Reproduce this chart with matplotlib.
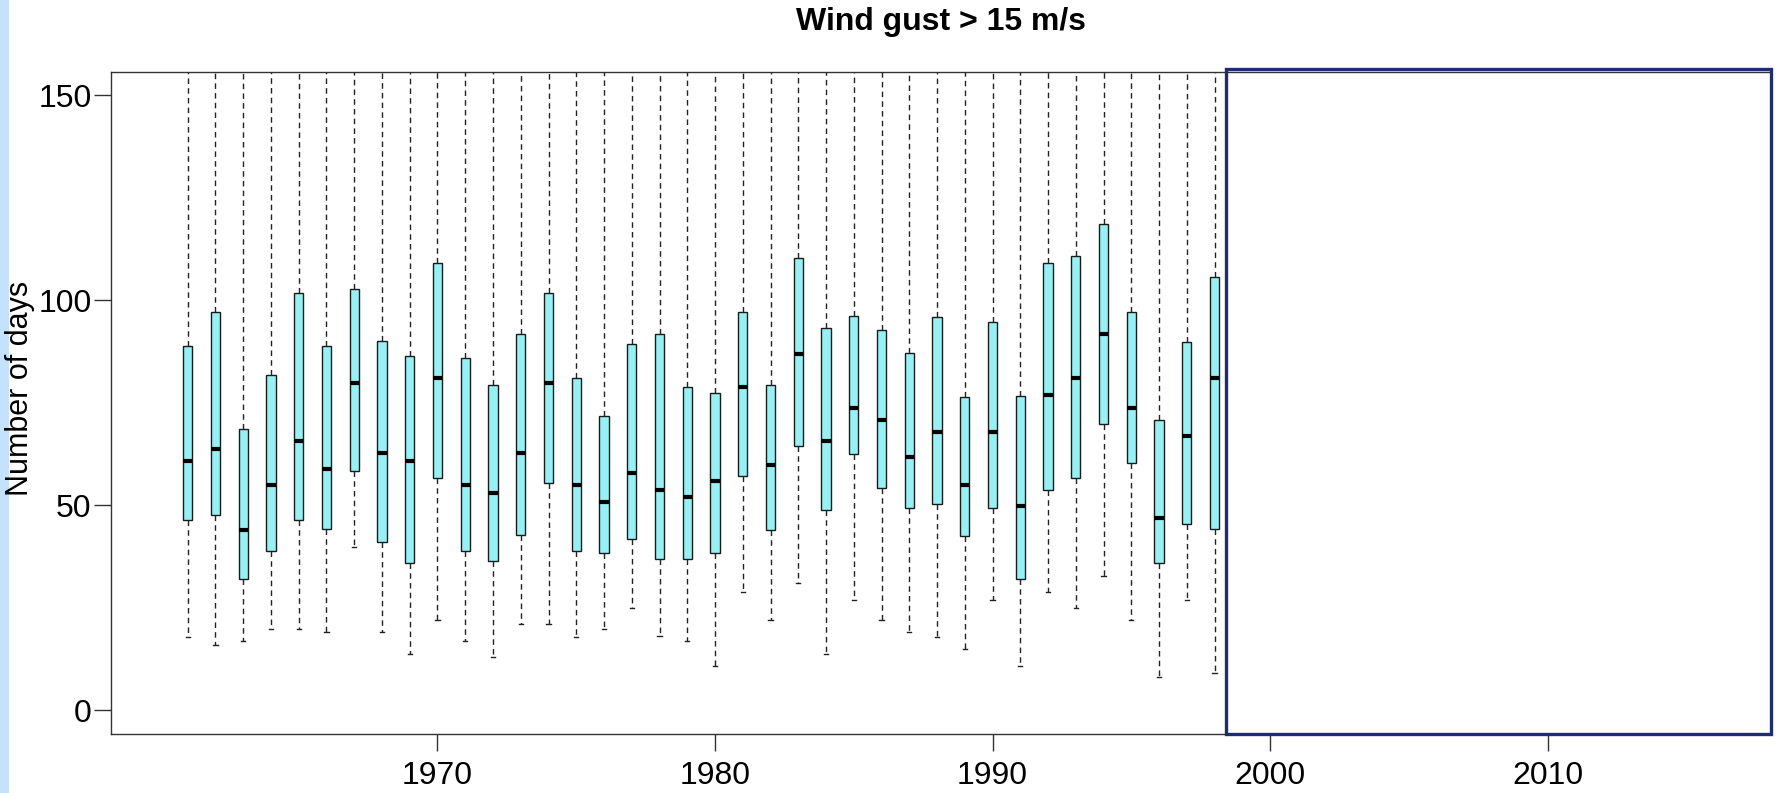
import numpy as np
import matplotlib.pyplot as plt
from matplotlib.patches import Rectangle

# Years shown as boxes
years = list(range(1961, 1999))

# Box statistics (number of days)
q1 = [46.3, 47.7, 31.9, 38.8, 46.3, 44.2, 58.4, 40.9, 35.8, 56.7,
      38.8, 36.3, 42.8, 55.4, 38.8, 38.2, 41.8, 36.9, 36.9, 38.2,
      57.2, 43.9, 64.3, 48.9, 62.4, 54.2, 49.3, 50.2, 42.4, 49.3,
      31.9, 53.7, 56.7, 69.8, 60.2, 35.8, 45.3, 44.2]
med = [60.8, 63.8, 43.9, 54.9, 65.7, 58.9, 79.8, 62.8, 60.8, 80.9,
       55.0, 52.9, 62.8, 79.8, 55.0, 50.8, 57.9, 53.7, 51.9, 55.9,
       78.7, 59.7, 86.8, 65.7, 73.8, 70.8, 61.8, 67.8, 54.8, 67.8,
       49.9, 76.8, 80.9, 91.8, 73.8, 46.9, 66.8, 80.9]
q3 = [88.8, 97.1, 68.5, 81.7, 101.8, 88.8, 102.6, 90.1, 86.3, 109.1,
      85.8, 79.3, 91.8, 101.8, 80.9, 71.7, 89.3, 91.8, 78.7, 77.4,
      97.1, 79.3, 110.2, 93.1, 96.1, 92.8, 87.2, 95.8, 76.3, 94.7,
      76.6, 109.1, 110.7, 118.5, 97.1, 70.8, 89.8, 105.6]
whislo = [17.9, 16.0, 16.9, 19.8, 19.8, 19.0, 39.9, 19.0, 13.8, 22.0,
          16.9, 13.0, 20.9, 20.9, 17.9, 19.8, 25.0, 18.0, 16.9, 10.8,
          28.9, 22.0, 31.0, 13.8, 26.8, 22.0, 19.0, 17.9, 15.0, 26.8,
          10.8, 28.9, 25.0, 32.8, 22.0, 8.0, 26.8, 9.0]
# upper whiskers run past the top of the plot
whishi = [165, 170, 162, 168, 175, 166, 180, 170, 164, 185,
          168, 163, 172, 178, 166, 162, 170, 171, 165, 164,
          176, 167, 190, 172, 174, 170, 168, 173, 163, 172,
          165, 182, 184, 195, 174, 160, 170, 181]

stats = [dict(med=m, q1=a, q3=b, whislo=lo, whishi=hi, fliers=[])
         for m, a, b, lo, hi in zip(med, q1, q3, whislo, whishi)]

plt.rcParams['font.family'] = ['Liberation Sans', 'DejaVu Sans']

fig = plt.figure(figsize=(17.87, 7.93), dpi=100)
ax = fig.add_axes([0.0622, 0.074, 0.9288, 0.8356])

ax.bxp(stats, positions=years, widths=0.33, patch_artist=True,
       showfliers=False,
       boxprops=dict(facecolor='#97f0f4', edgecolor='#1a1a1a', linewidth=1.0),
       medianprops=dict(color='black', linewidth=3.0, solid_capstyle='butt'),
       whiskerprops=dict(color='#222222', linewidth=1.0, linestyle=(0, (4, 3))),
       capprops=dict(color='#222222', linewidth=1.0),
       capwidths=0.16)

ax.set_xlim(1958.24, 2018.05)
ax.set_ylim(-5.9, 155.7)
ax.set_xticks([1970, 1980, 1990, 2000, 2010])
ax.set_xticklabels(['1970', '1980', '1990', '2000', '2010'])
ax.set_yticks([0, 50, 100, 150])
ax.tick_params(axis='both', labelsize=23, length=12, width=1.0,
               color='#333333')
ax.tick_params(axis='y', pad=2)
ax.tick_params(axis='x', pad=7)
for s in ax.spines.values():
    s.set_color('#333333')
    s.set_linewidth(1.0)

ax.set_title('Wind gust > 15 m/s', fontsize=23, fontweight='bold', pad=30)

# y label sits tight against the tick labels, as in the original
fig.text(0.003, 0.51, 'Number of days', fontsize=22, rotation=90,
         ha='left', va='center')

# navy frame over the empty years
ax.add_patch(Rectangle((1998.41, -5.9), 2018.05 - 1998.41, 155.7 + 5.9 + 0.6,
                       fill=False, edgecolor='#1e2d6e', linewidth=2.4,
                       clip_on=False, zorder=5))

# light blue strip at the left edge
fig.patches.append(Rectangle((0, 0), 0.005, 1, transform=fig.transFigure,
                             facecolor='#c4e2fb', edgecolor='none', zorder=-1))

fig.savefig('out.png', dpi=100)
